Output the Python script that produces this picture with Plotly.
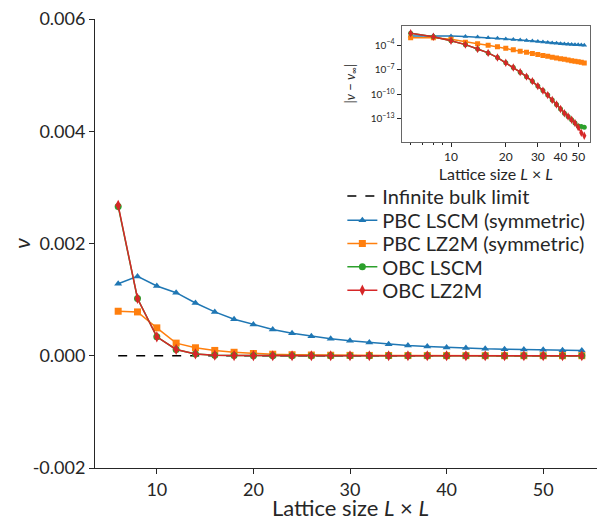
import plotly.graph_objects as go

# ---------------- data ----------------
L = [6, 8, 10, 12, 14, 16, 18, 20, 22, 24, 26, 28, 30, 32, 34, 36, 38, 40, 42, 44, 46, 48, 50, 52, 54]

pbc_lscm = [0.001284, 0.001414, 0.001242, 0.001124, 0.000940, 0.000781, 0.000651, 0.000556,
            0.000467, 0.000402, 0.000349, 0.000302, 0.000266, 0.000237, 0.000207, 0.000183,
            0.000166, 0.000148, 0.000136, 0.000124, 0.000118, 0.000112, 0.000106, 0.000100, 0.000095]

pbc_lz2m = [0.000793, 0.000781, 0.000497, 0.000225, 0.000142, 0.0000946, 0.000062, 0.000040,
            0.000027, 0.000018, 0.0000128, 0.0000093, 0.0000070, 0.0000054, 0.0000042, 0.0000033,
            0.0000027, 0.0000022, 0.0000018, 0.0000015, 0.00000125, 0.00000105, 0.0000009,
            0.00000078, 0.00000067]

obc_lscm = [0.00266, 0.00102, 0.000337, 0.000112, 3.3e-5, 1.1e-5, 3.0e-6, 7.0e-7, 1.8e-7, 5.0e-8,
            1.4e-8, 4.0e-9, 1.0e-9, 2.8e-10, 8.0e-11, 2.0e-11, 5.6e-12, 1.6e-12, 5.0e-13, 2.0e-13,
            8.0e-14, 3.2e-14, 1.4e-14, 1.2e-14, 1.0e-14]

obc_lz2m = [0.00268, 0.00102, 0.000337, 0.000112, 3.3e-5, 1.1e-5, 3.0e-6, 7.0e-7, 1.8e-7, 5.0e-8,
            1.4e-8, 4.0e-9, 1.0e-9, 2.8e-10, 8.0e-11, 2.0e-11, 5.6e-12, 1.6e-12, 5.0e-13, 2.0e-13,
            8.0e-14, 3.2e-14, 1.0e-14, 2.0e-15, 9.0e-16]

nu_inf = 0.0
bulk_x = [6, 54]
bulk_y = [nu_inf, nu_inf]

y_ticks = [-0.002, 0.000, 0.002, 0.004, 0.006]
y_tick_labels = ["-0.002", "0.000", "0.002", "0.004", "0.006"]
x_ticks = [10, 20, 30, 40, 50]
inset_y_ticks = [1e-4, 1e-7, 1e-10, 1e-13]
inset_y_labels = ["10<sup>−4</sup>", "10<sup>−7</sup>", "10<sup>−10</sup>", "10<sup>−13</sup>"]

series = [
    ("PBC LSCM (symmetric)", pbc_lscm, "#1f77b4", "triangle-up"),
    ("PBC LZ2M (symmetric)", pbc_lz2m, "#ff7f0e", "square"),
    ("OBC LSCM", obc_lscm, "#2ca02c", "circle"),
    ("OBC LZ2M", obc_lz2m, "#d62728", "diamond-tall"),
]

FONT = "Lato"
TXT = "#262626"

legend_names = ["legend", "legend2", "legend3", "legend4", "legend5"]
legend_rows_y = [0.606, 0.552, 0.500, 0.448, 0.396]

fig = go.Figure()

fig.add_trace(go.Scatter(x=bulk_x, y=bulk_y, mode="lines", name="Infinite bulk limit",
                         line=dict(color="black", width=1.5, dash="dash"),
                         legend=legend_names[0], xaxis="x", yaxis="y"))

for i, (name, vals, col, sym) in enumerate(series):
    fig.add_trace(go.Scatter(x=L, y=vals, mode="lines+markers", name=name,
                             line=dict(color=col, width=1.5),
                             marker=dict(symbol=sym, size=7 if sym != "diamond-tall" else 8, color=col),
                             legend=legend_names[i + 1], xaxis="x", yaxis="y"))

for name, vals, col, sym in series:
    fig.add_trace(go.Scatter(x=L, y=[abs(v - nu_inf) for v in vals], mode="lines+markers",
                             showlegend=False,
                             line=dict(color=col, width=1.5),
                             marker=dict(symbol=sym, size=5 if sym != "diamond-tall" else 6, color=col),
                             xaxis="x2", yaxis="y2"))

axis_common = dict(showgrid=False, zeroline=False, showline=True, linecolor=TXT, linewidth=1,
                   ticks="outside", tickcolor=TXT, tickwidth=1, automargin=False,
                   ticklabeloverflow="allow")

legend_layout = {}
for nm, yy in zip(legend_names, legend_rows_y):
    legend_layout[nm] = dict(x=0.485, y=yy, xanchor="left", yanchor="middle", bgcolor="rgba(0,0,0,0)",
                             font=dict(size=20, color=TXT, family=FONT), itemwidth=30)

# the page body adds an 8px offset, margins compensate for it
fig.update_layout(
    width=605, height=518,
    margin=dict(l=87, r=8, t=11, b=58, autoexpand=False),
    paper_bgcolor="white", plot_bgcolor="white",
    font=dict(family=FONT, color=TXT, size=16),
    xaxis=dict(domain=[0, 1], range=[3.6, 56.4], tickvals=x_ticks, ticklen=5,
               tickfont=dict(size=18, color=TXT),
               anchor="y", **axis_common),
    yaxis=dict(domain=[0, 1], range=[-0.002, 0.006], tickvals=y_ticks, ticktext=y_tick_labels, ticklen=5,
               tickfont=dict(size=18, color=TXT),
               title=dict(text="<i>ν</i>", font=dict(size=22, color=TXT), standoff=18),
               anchor="x", **axis_common),
    xaxis2=dict(domain=[0.601, 0.971], type="log", range=[0.728, 1.765], tickvals=x_ticks, ticklen=4,
                tickfont=dict(size=12, color=TXT), ticklabeloverflow="allow",
                minor=dict(tickvals=[6, 7, 8, 9], ticklen=2, ticks="outside", tickcolor=TXT),
                title=dict(text="Lattice size <i>L</i> × <i>L</i>", font=dict(size=16, color=TXT), standoff=0),
                anchor="y2", mirror=True, showgrid=False, zeroline=False, showline=True, automargin=False,
                linecolor="#666", linewidth=1, ticks="outside", tickcolor=TXT),
    yaxis2=dict(domain=[0.727, 0.985], type="log", range=[-15.76, -1.65], tickvals=inset_y_ticks,
                ticktext=inset_y_labels, ticklen=4, tickfont=dict(size=10, color=TXT),
                ticklabeloverflow="allow",
                title=dict(text="|<i>ν</i> − <i>ν</i><sub>∞</sub>|", font=dict(size=13, color=TXT), standoff=12),
                anchor="x2", mirror=True, showgrid=False, zeroline=False, showline=True, automargin=False,
                linecolor="#666", linewidth=1, ticks="outside", tickcolor=TXT),
    annotations=[dict(text="Lattice size <i>L</i> × <i>L</i>", xref="paper", yref="paper",
                      x=0.5, y=-0.089, xanchor="center", yanchor="middle", showarrow=False,
                      font=dict(size=22, color=TXT, family=FONT))],
    showlegend=True,
    **legend_layout,
)

fig.write_html("out.html")
